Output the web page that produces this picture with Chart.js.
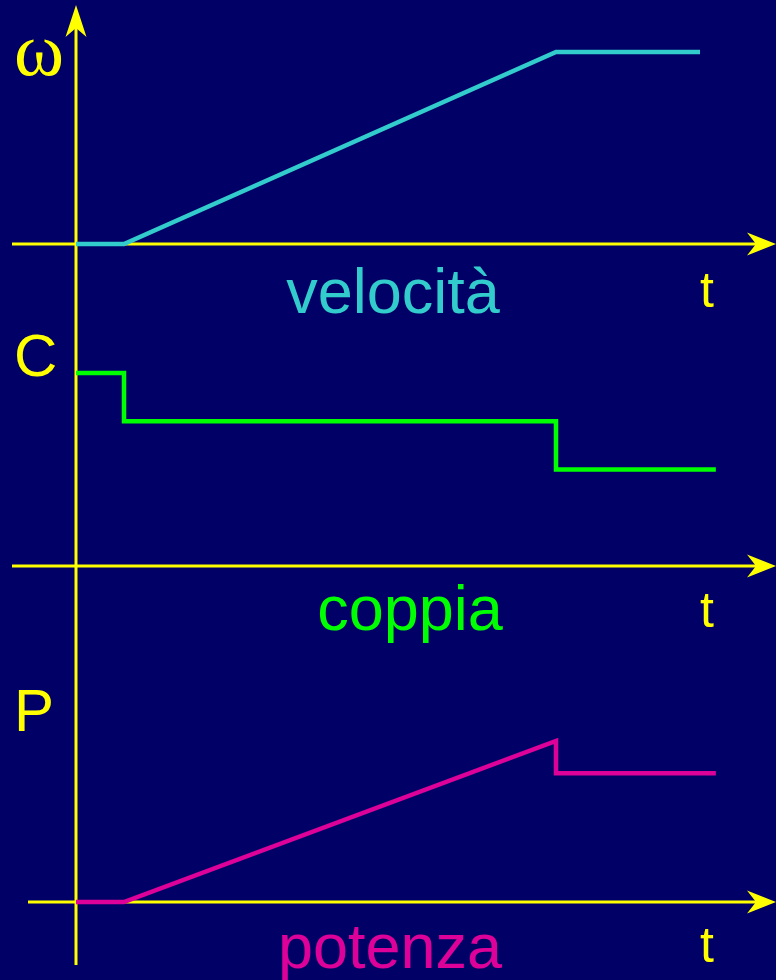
<!DOCTYPE html>
<html>
<head>
<meta charset="utf-8">
<script src="https://cdn.jsdelivr.net/npm/chart.js@4.4.1/dist/chart.umd.min.js"></script>
<style>
  html, body { margin: 0; padding: 0; background: #000066; }
  #wrap { position: relative; width: 776px; height: 980px; }
</style>
</head>
<body>
<div id="wrap"><canvas id="chart" width="776" height="980"></canvas></div>
<script>
// time instants (t = 0 on the vertical axis, acceleration from t=1 to t=10)
const velTimes = [0, 1, 10, 13]
const velValues = [0, 0, 100, 100]

const torqueTimes = [0, 1, 1, 10, 10, 13.33]
const torqueValues = [4, 4, 3, 3, 2, 2]

const powerTimes = [0, 1, 10, 10, 13.33]
const powerValues = [0, 0, 300, 240, 240]

const panelLabels = ["ω", "C", "P"]
const panelNames = ["velocità", "coppia", "potenza"]
const timeLabel = "t"

const YELLOW = "#ffff00"
const COLORS = ["#33cccc", "#00ff00", "#dd0099"]

// layout: where t=0 sits and how many pixels a unit takes
const W = 776, H = 980
const originX = 76, pxPerT = 48
const baselines = [244, 566, 902]
const pxPerUnit = [1.92, 48.25, 0.5367]
const axisStartX = [12, 12, 28]

function yScale(i) {
    return {
        type: "linear",
        display: false,
        min: -(H - baselines[i]) / pxPerUnit[i],
        max: baselines[i] / pxPerUnit[i]
    }
}

function points(xs, ys) {
    return xs.map((x, i) => ({ x: x, y: ys[i] }))
}

function arrowRight(ctx, x, y) {
    ctx.beginPath()
    ctx.moveTo(x, y)
    ctx.lineTo(x - 29, y - 11.5)
    ctx.lineTo(x - 20, y)
    ctx.lineTo(x - 29, y + 11.5)
    ctx.closePath()
    ctx.fill()
}

function arrowUp(ctx, x, y) {
    ctx.beginPath()
    ctx.moveTo(x, y)
    ctx.lineTo(x - 10.5, y + 32)
    ctx.lineTo(x, y + 23)
    ctx.lineTo(x + 10.5, y + 32)
    ctx.closePath()
    ctx.fill()
}

const axesPlugin = {
    id: "axes",
    beforeDatasetsDraw(chart) {
        const ctx = chart.ctx
        const xs = chart.scales.x
        const x0 = xs.getPixelForValue(0)
        ctx.save()
        ctx.strokeStyle = YELLOW
        ctx.fillStyle = YELLOW
        ctx.lineWidth = 3

        // vertical axis
        ctx.beginPath()
        ctx.moveTo(x0, 20)
        ctx.lineTo(x0, 965)
        ctx.stroke()
        arrowUp(ctx, x0, 5)

        // time axes
        ;["yW", "yC", "yP"].forEach((id, i) => {
            const y = chart.scales[id].getPixelForValue(0)
            ctx.beginPath()
            ctx.moveTo(axisStartX[i], y)
            ctx.lineTo(W - 10, y)
            ctx.stroke()
            arrowRight(ctx, W, y)
        })
        ctx.restore()
    },
    afterDraw(chart) {
        const ctx = chart.ctx
        ctx.save()
        ctx.textBaseline = "alphabetic"

        // quantity symbols
        ctx.fillStyle = YELLOW
        ctx.textAlign = "left"
        ctx.font = "76px 'Liberation Serif', serif"
        ctx.fillText(panelLabels[0], 14, 75)
        ctx.font = "60px 'Liberation Sans', Arial, sans-serif"
        ctx.fillText(panelLabels[1], 14, 376)
        ctx.fillText(panelLabels[2], 14, 731)

        // t labels
        ctx.font = "50px 'Liberation Sans', Arial, sans-serif"
        ;[307, 627, 962].forEach(y => ctx.fillText(timeLabel, 700, y))

        // curve names
        ctx.font = "63px 'Liberation Sans', Arial, sans-serif"
        ctx.textAlign = "center"
        const nameX = [393, 410, 390]
        const nameY = [313, 630, 968]
        panelNames.forEach((n, i) => {
            ctx.fillStyle = COLORS[i]
            ctx.fillText(n, nameX[i], nameY[i])
        })
        ctx.restore()
    }
}

const lineStyle = {
    borderWidth: 4.5,
    pointRadius: 0,
    tension: 0,
    fill: false,
    borderCapStyle: "butt",
    borderJoinStyle: "miter"
}

new Chart(document.getElementById("chart"), {
    type: "line",
    data: {
        datasets: [
            Object.assign({ label: "velocità", data: points(velTimes, velValues), borderColor: COLORS[0], yAxisID: "yW" }, lineStyle),
            Object.assign({ label: "coppia", data: points(torqueTimes, torqueValues), borderColor: COLORS[1], yAxisID: "yC" }, lineStyle),
            Object.assign({ label: "potenza", data: points(powerTimes, powerValues), borderColor: COLORS[2], yAxisID: "yP" }, lineStyle)
        ]
    },
    options: {
        responsive: false,
        devicePixelRatio: 1,
        animation: false,
        layout: { padding: 0 },
        plugins: {
            legend: { display: false },
            tooltip: { enabled: false },
            title: { display: false }
        },
        scales: {
            x: {
                type: "linear",
                display: false,
                min: -originX / pxPerT,
                max: (W - originX) / pxPerT
            },
            yW: yScale(0),
            yC: yScale(1),
            yP: yScale(2)
        }
    },
    plugins: [axesPlugin]
})
</script>
</body>
</html>
